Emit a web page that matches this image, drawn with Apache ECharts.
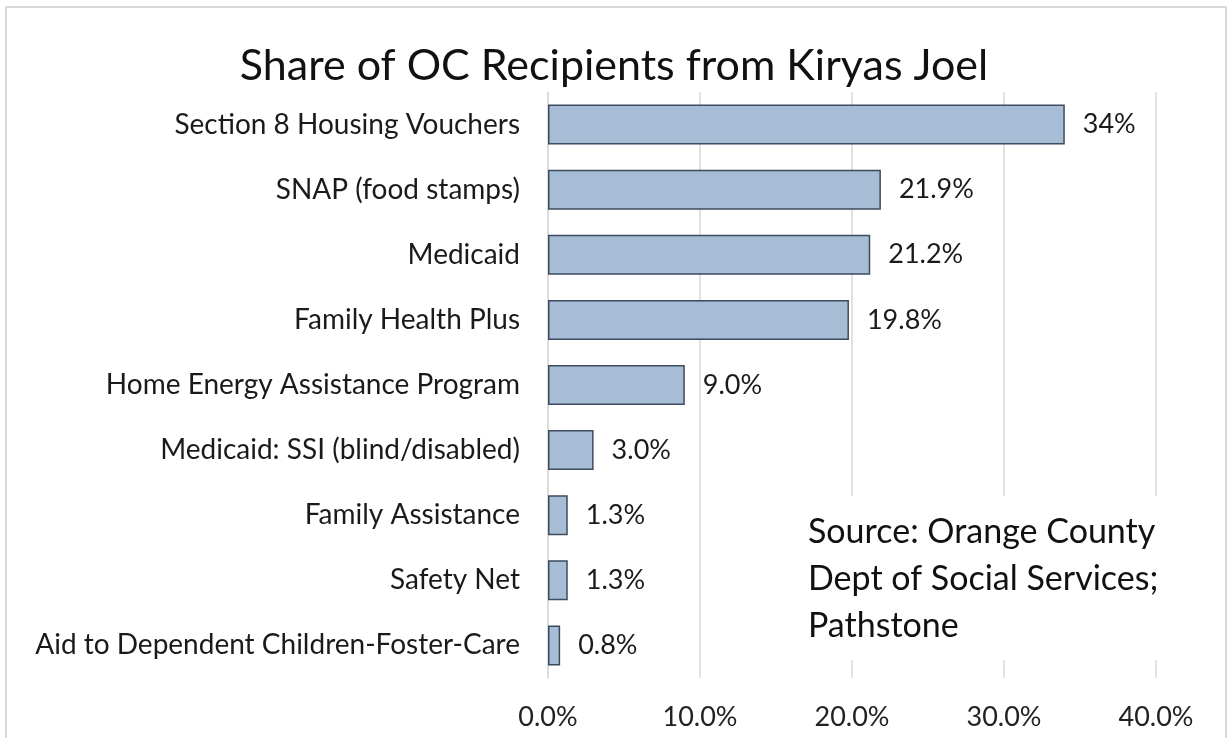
<!DOCTYPE html>
<html>
<head>
<meta charset="utf-8">
<style>
  html, body { margin: 0; padding: 0; background: #fff; }
  #main { width: 1228px; height: 738px; }
</style>
<script src="https://cdn.jsdelivr.net/npm/echarts@6/dist/echarts.min.js"></script>
</head>
<body>
<div id="main"></div>
<script>
// data
var categories = [
  'Section 8 Housing Vouchers',
  'SNAP (food stamps)',
  'Medicaid',
  'Family Health Plus',
  'Home Energy Assistance Program',
  'Medicaid: SSI (blind/disabled)',
  'Family Assistance',
  'Safety Net',
  'Aid to Dependent Children-Foster-Care'
]
var shares = [34, 21.9, 21.2, 19.8, 9.0, 3.0, 1.3, 1.3, 0.8]
var shareLabels = ['34%', '21.9%', '21.2%', '19.8%', '9.0%', '3.0%', '1.3%', '1.3%', '0.8%']
var sourceLines = ['Source: Orange County', 'Dept of Social Services;', 'Pathstone']

var font = 'Lato, "Open Sans", sans-serif'
var myChart = echarts.init(document.getElementById('main'))

var option = {
  backgroundColor: '#fff',
  title: {
    text: 'Share of OC Recipients from Kiryas Joel',
    left: 'center',
    top: 40,
    textStyle: { fontFamily: font, fontSize: 43, fontWeight: 'normal', color: '#111' },
  },
  grid: {
    left: 548,
    right: 72,
    top: 92,
    bottom: 60,
  },
  xAxis: {
    type: 'value',
    min: 0,
    max: 40,
    interval: 10,
    axisLine: { show: false },
    axisTick: { show: false },
    splitLine: { lineStyle: { color: '#d9d9d9', width: 1.5 } },
    axisLabel: {
      fontFamily: font,
      fontSize: 27,
      color: '#222',
      margin: 26,
      formatter: function (v) { return v.toFixed(1) + '%' },
    },
  },
  yAxis: {
    type: 'category',
    inverse: true,
    data: categories,
    axisLine: { lineStyle: { color: '#d9d9d9', width: 1.5 } },
    axisTick: { show: false },
    axisLabel: { fontFamily: font, fontSize: 28, color: '#1a1a1a', margin: 28 },
  },
  series: [
    {
      type: 'bar',
      data: shares,
      barWidth: 40,
      itemStyle: { color: '#a7bdd6', borderColor: '#3d4b5e', borderWidth: 1.5 },
      label: {
        show: true,
        position: 'right',
        distance: 18,
        fontFamily: font,
        fontSize: 27,
        color: '#1a1a1a',
        formatter: function (p) { return shareLabels[p.dataIndex] },
      },
    },
  ],
  graphic: [
    {
      type: 'rect',
      z: 100,
      shape: { x: 800, y: 496, width: 375, height: 164 },
      style: { fill: '#fff' },
    },
    {
      type: 'text',
      z: 101,
      left: 808,
      top: 509,
      style: {
        text: sourceLines.join('\n'),
        font: '34px ' + font,
        lineHeight: 47,
        fill: '#111',
      },
    },
    {
      type: 'rect',
      z: 102,
      shape: { x: 6, y: 7, width: 1220, height: 740 },
      style: { fill: 'none', stroke: '#d9d9d9', lineWidth: 2 },
    },
  ],
}

myChart.setOption(option)
window.addEventListener('resize', function () {
  myChart.resize()
})
</script>
</body>
</html>
